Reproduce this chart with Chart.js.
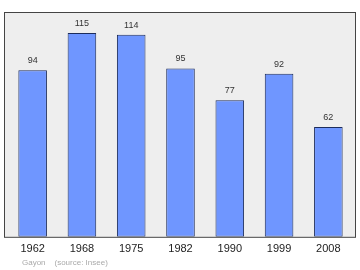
<!DOCTYPE html>
<html>
<head>
<meta charset="utf-8">
<script src="https://cdn.jsdelivr.net/npm/chart.js@4"></script>
<style>
  html, body { margin: 0; padding: 0; background: #fff; }
  #wrap { width: 360px; height: 270px; position: relative; }
</style>
</head>
<body>
<div id="wrap"><canvas id="popChart"></canvas></div>
<script>
const years = ['1962', '1968', '1975', '1982', '1990', '1999', '2008']
const population = [94, 115, 114, 95, 77, 92, 62]
const footer = 'Gayon    (source: Insee)'

// frame + grey background around the plot
const framePlugin = {
  id: 'frame',
  beforeDraw: chart => {
    const { ctx, chartArea: a } = chart
    ctx.save()
    ctx.fillStyle = '#eeeeee'
    ctx.fillRect(a.left - 4, a.top, a.right - a.left + 7, a.bottom - a.top)
    ctx.strokeStyle = '#444'
    ctx.lineWidth = 1
    ctx.strokeRect(a.left - 3.5, a.top + 0.5, a.right - a.left + 6, a.bottom - a.top)
    ctx.restore()
  },
  afterDatasetsDraw: chart => {
    const { ctx } = chart
    const meta = chart.getDatasetMeta(0)
    ctx.save()
    ctx.font = '9px "Liberation Sans", Arial, sans-serif'
    ctx.fillStyle = '#333'
    ctx.textAlign = 'center'
    ctx.textBaseline = 'alphabetic'
    meta.data.forEach((bar, i) => {
      ctx.fillText(population[i], bar.x, bar.y - 7)
    })
    ctx.font = '8px "Liberation Sans", Arial, sans-serif'
    ctx.fillStyle = '#aaaaaa'
    ctx.textAlign = 'left'
    ctx.fillText(footer, 22, 265)
    ctx.restore()
  }
}

new Chart(document.getElementById('popChart'), {
  type: 'bar',
  data: {
    labels: years,
    datasets: [{
      data: population,
      backgroundColor: '#6f96ff',
      borderColor: '#1c2c5c',
      borderWidth: 1,
      borderSkipped: false,
      barPercentage: 0.58,
      categoryPercentage: 1
    }]
  },
  options: {
    responsive: true,
    maintainAspectRatio: false,
    animation: false,
    layout: { padding: { left: 8, right: 7, top: 12, bottom: 8 } },
    plugins: { legend: { display: false }, tooltip: { enabled: false } },
    scales: {
      x: {
        offset: true,
        grid: { display: false, drawTicks: false },
        border: { display: false },
        ticks: {
          padding: 6,
          color: '#222',
          font: { family: '"Liberation Sans", Arial, sans-serif', size: 11 }
        }
      },
      y: {
        display: false,
        min: 0,
        max: 126.8
      }
    }
  },
  plugins: [framePlugin]
})
</script>
</body>
</html>
